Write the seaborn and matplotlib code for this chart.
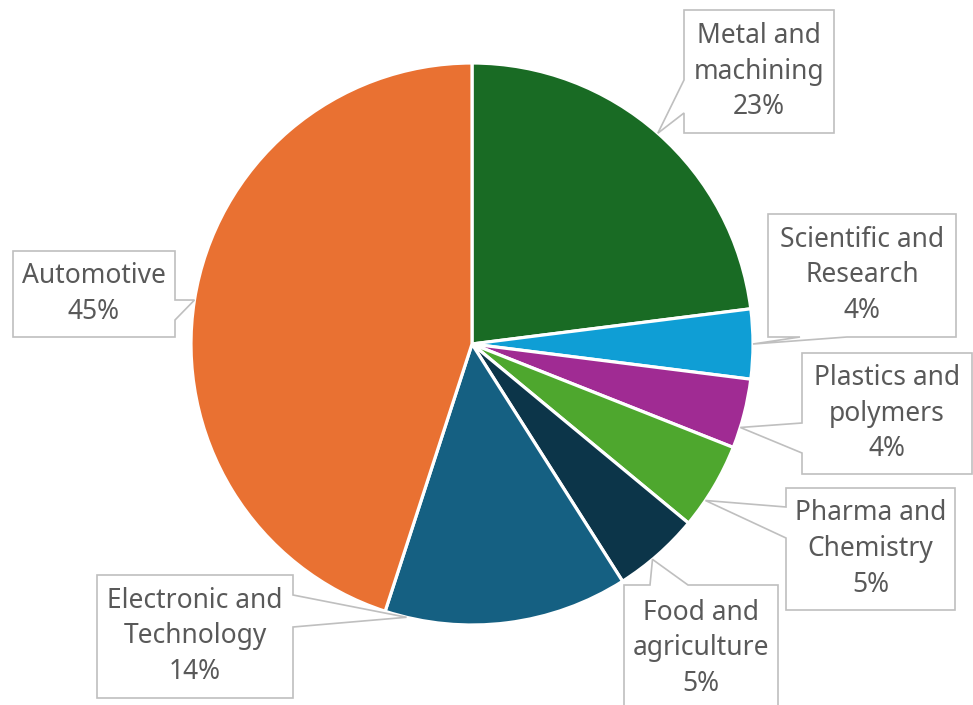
import matplotlib
matplotlib.use("Agg")
import matplotlib.pyplot as plt
from matplotlib.patches import Polygon
import numpy as np
import seaborn as sns

# Share of applications by industry (%)
sectors = ["Metal and\nmachining", "Scientific and\nResearch", "Plastics and\npolymers",
           "Pharma and\nChemistry", "Food and\nagriculture", "Electronic and\nTechnology",
           "Automotive"]
shares = [23, 4, 4, 5, 5, 14, 45]
colors = ["#196b24", "#0f9ed5", "#a02b93", "#4ea72e", "#0c3549", "#156082", "#e97132"]

sns.set_theme(style="white")
plt.rcParams["font.family"] = ["Noto Sans", "DejaVu Sans"]

W, H = 973, 705
fig = plt.figure(figsize=(W / 100, H / 100), dpi=100)
ax = fig.add_axes([0, 0, 1, 1])

cx, cy, R = 472, 344, 281
wedges, _ = ax.pie(shares, colors=colors, startangle=-90, counterclock=True,
                   center=(cx, cy), radius=R, frame=True,
                   wedgeprops=dict(edgecolor="white", linewidth=2.3))
ax.set_xlim(0, W)
ax.set_ylim(H, 0)
ax.set_aspect("equal")
ax.axis("off")

# Callout layout: box (x0, y0, x1, y1), side with the pointer, opening along that side,
# and where inside the wedge the pointer lands (fraction of the wedge's sweep).
callouts = [
    dict(box=(684, 10, 834, 133), side="left", gap=(80, 113), frac=0.5),
    dict(box=(768, 214, 956, 337), side="bottom", gap=(800, 847), frac=0.5),
    dict(box=(802, 353, 972, 474), side="left", gap=(423, 453), frac=0.7),
    dict(box=(786, 488, 955, 610), side="left", gap=(507, 538), frac=0.68),
    dict(box=(624, 585, 778, 712), side="top", gap=(650, 688), frac=0.58),
    dict(box=(97, 575, 293, 698), side="right", gap=(595, 627), frac=0.91),
    dict(box=(13, 251, 175, 337), side="right", gap=(300, 320), frac=0.5),
]


def callout_path(box, side, gap, tip):
    x0, y0, x1, y1 = box
    a, b = gap
    tx, ty = tip
    # walk the outline clockwise on screen, starting at the top-left corner
    pts = [(x0, y0)]
    if side == "top":
        pts += [(a, y0), (tx, ty), (b, y0)]
    pts.append((x1, y0))
    if side == "right":
        pts += [(x1, a), (tx, ty), (x1, b)]
    pts.append((x1, y1))
    if side == "bottom":
        pts += [(b, y1), (tx, ty), (a, y1)]
    pts.append((x0, y1))
    if side == "left":
        pts += [(x0, b), (tx, ty), (x0, a)]
    return pts


for w, label, share, co in zip(wedges, sectors, shares, callouts):
    ang = np.deg2rad(w.theta1 + co["frac"] * (w.theta2 - w.theta1))
    tip = (cx + R * np.cos(ang), cy + R * np.sin(ang))
    poly = Polygon(callout_path(co["box"], co["side"], co["gap"], tip), closed=True,
                   facecolor="white", edgecolor="#bfbfbf", linewidth=1.2, zorder=3)
    ax.add_patch(poly)
    x0, y0, x1, y1 = co["box"]
    yc = (y0 + min(y1, H + 7)) / 2
    ax.text((x0 + x1) / 2, yc, f"{label}\n{share}%", ha="center", va="center",
            fontsize=19, color="#595959", linespacing=1.36, zorder=4)

fig.savefig("out.png", dpi=100, facecolor="white")
